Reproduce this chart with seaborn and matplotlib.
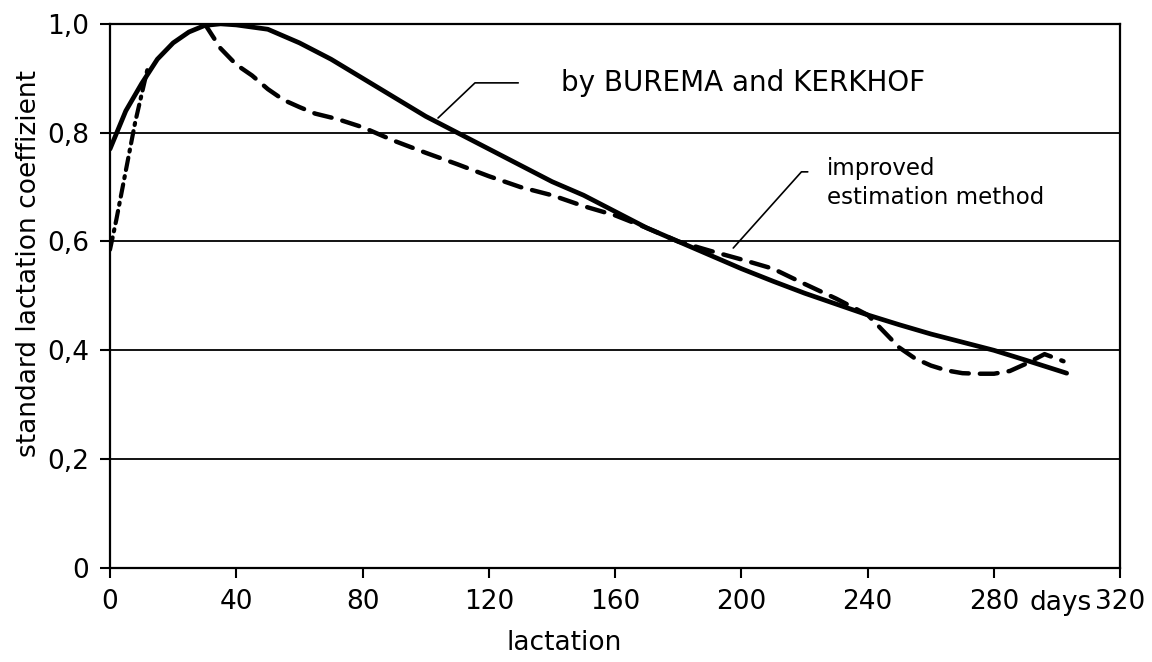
import numpy as np
import pandas as pd
import seaborn as sns
import matplotlib.pyplot as plt

# solid curve: by BUREMA and KERKHOF
burema_days = [0, 5, 10, 15, 20, 25, 30, 35, 40, 50, 60, 70, 80, 90, 100, 110, 120,
               130, 140, 150, 160, 170, 180, 190, 200, 210, 220, 230, 240, 250, 260,
               270, 280, 290, 303]
burema_coef = [0.77, 0.84, 0.89, 0.935, 0.965, 0.985, 0.997, 1.0, 0.998, 0.99, 0.965,
               0.935, 0.90, 0.865, 0.83, 0.80, 0.77, 0.74, 0.71, 0.685, 0.655, 0.625,
               0.60, 0.575, 0.55, 0.527, 0.505, 0.485, 0.465, 0.447, 0.43, 0.415, 0.40,
               0.382, 0.358]

# dashed curve: improved estimation method
improved_days = [30, 35, 40, 45, 50, 55, 60, 65, 72, 80, 90, 100, 110, 120, 130, 140,
                 150, 160, 170, 180, 190, 200, 210, 220, 230, 240, 245, 250, 255, 260,
                 265, 270, 275, 280, 285, 290, 296, 302]
improved_coef = [1.0, 0.955, 0.925, 0.905, 0.88, 0.86, 0.847, 0.835, 0.825, 0.81, 0.785,
                 0.763, 0.742, 0.72, 0.70, 0.685, 0.665, 0.648, 0.625, 0.60, 0.583,
                 0.567, 0.55, 0.522, 0.495, 0.465, 0.435, 0.405, 0.385, 0.372, 0.363,
                 0.358, 0.357, 0.357, 0.362, 0.375, 0.393, 0.38]

# dash-dot start-up curve
start_days = [0, 2, 4, 6, 8, 10, 12]
start_coef = [0.585, 0.64, 0.70, 0.76, 0.82, 0.87, 0.92]

x_ticks = [0, 40, 80, 120, 160, 200, 240, 280, 320]
x_grid = [80, 160, 240]
y_ticks = [0, 0.2, 0.4, 0.6, 0.8, 1.0]
y_labels = ['0', '0,2', '0,4', '0,6', '0,8', '1,0']

sns.set_theme(style='white')
plt.rcParams['font.family'] = ['DejaVu Sans']
plt.rcParams['text.color'] = 'black'
plt.rcParams['axes.labelcolor'] = 'black'

fig = plt.figure(figsize=(11.52, 6.62), dpi=100)
ax = fig.add_axes([0.0955, 0.142, 0.877, 0.822])

burema = pd.DataFrame({'day': burema_days, 'coef': burema_coef})
improved = pd.DataFrame({'day': improved_days, 'coef': improved_coef})
start = pd.DataFrame({'day': start_days, 'coef': start_coef})

sns.lineplot(data=burema, x='day', y='coef', ax=ax, color='black', lw=3.4,
             solid_capstyle='round', solid_joinstyle='round')
sns.lineplot(data=improved, x='day', y='coef', ax=ax, color='black', lw=3.2,
             linestyle=(0, (4, 2.5)), dash_capstyle='round')
sns.lineplot(data=start, x='day', y='coef', ax=ax, color='black', lw=3.0,
             linestyle=(0, (3, 1.5, 0.5, 1.5)), dash_capstyle='round')

ax.set_xlim(0, 320)
ax.set_ylim(0, 1.0)
ax.set_xticks(x_ticks)
ax.set_xticklabels(['0', '40', '80', '120', '160', '200', '240', '280', '320'])
ax.set_xticks(x_grid, minor=True)
ax.set_yticks(y_ticks)
ax.set_yticklabels(y_labels)

ax.grid(axis='y', which='major', color='black', lw=1.3)
ax.grid(axis='x', which='minor', color='black', lw=1.3)
ax.tick_params(axis='both', which='major', direction='out', length=7, width=1.5,
               color='black', labelsize=19, labelcolor='black', pad=8,
               bottom=True, left=True)
ax.tick_params(axis='x', which='minor', length=0)
for s in ax.spines.values():
    s.set_color('black')
    s.set_linewidth(1.6)

ax.text(301, -0.04, 'days', transform=ax.transData, ha='center', va='top',
        fontsize=19, clip_on=False)

ax.set_xlabel('lactation', fontsize=19)
ax.xaxis.label.set_va('center')
ax.xaxis.set_label_coords(0.45, -0.138)
ax.set_ylabel('standard lactation coeffizient', fontsize=19)
ax.yaxis.label.set_va('center')
ax.yaxis.set_label_coords(-0.08, 0.56)

# annotation leaders
ax.plot([129.3, 115.6, 103.9], [0.8915, 0.8915, 0.827], color='black', lw=1.2)
ax.text(143, 0.8915, 'by BUREMA and KERKHOF', fontsize=20, va='center', ha='left')

ax.plot([221, 219, 197.4], [0.728, 0.728, 0.588], color='black', lw=1.2)
ax.text(227, 0.735, 'improved', fontsize=16.5, va='center', ha='left')
ax.text(227, 0.68, 'estimation method', fontsize=16.5, va='center', ha='left')

fig.savefig('out.png', dpi=100, facecolor='white')
